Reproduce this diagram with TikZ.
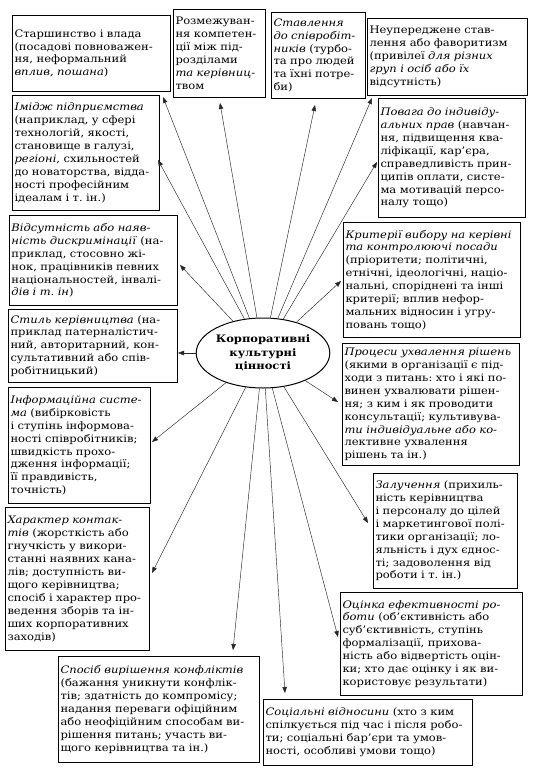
\documentclass[tikz,border=0pt]{standalone}
\usepackage{fontspec}
\setmainfont{DejaVu Serif}[FakeStretch=1.12]
\usetikzlibrary{arrows.meta,shapes.geometric}
\frenchspacing
\begin{document}
\begin{tikzpicture}[x=1pt,y=-1pt,
  box/.style={draw, line width=1pt, anchor=north west, align=left, inner sep=2pt,
    font=\fontsize{10.3}{12.9}\selectfont},
  arr/.style={line width=0.45pt, draw=black!85, -{Triangle[length=6pt,width=4.5pt]}},
  core/.style={draw, ellipse, line width=1pt, minimum width=122, minimum height=70,
    align=center, inner sep=0pt, font=\bfseries\fontsize{10.3}{13.5}\selectfont}]
\useasboundingbox[fill=white] (0,0) rectangle (537,784);

\node[core] (e) at (263,353) {Корпоративні\\культурні\\цінності};

\node[box, minimum width=156, minimum height=76, text width=154] (b1) at (12,15)
 {Старшинство і влада\\(посадові повноважен-\\ня, неформальний\\\textit{вплив, пошана})};
\node[box, minimum width=90, minimum height=88, text width=88] (b2) at (173,9)
 {Розмежуван-\\ня компетен-\\ції між під-\\розділами\\\textit{та керівниц-}\\твом};
\node[box, minimum width=92, minimum height=86, text width=90] (b3) at (271,12)
 {\textit{Ставлення}\\\textit{до співробіт-}\\\textit{ників} (турбо-\\та про людей\\та їхні потре-\\би)};
\node[box, minimum width=158, minimum height=77, text width=156] (b4) at (367,18)
 {Неупереджене став-\\лення або фаворитизм\\(привілеї \textit{для різних}\\\textit{груп і осіб або їх}\\відсутність)};
\node[box, minimum width=145, minimum height=119, text width=143] (b5) at (378,98)
 {\textit{Повага до індивіду-}\\\textit{альних прав} (навчан-\\ня, підвищення ква-\\ліфікації, кар'єра,\\справедливість прин-\\ципів оплати, систе-\\ма мотивацій персо-\\налу тощо)};
\node[box, minimum width=145, minimum height=115, text width=143] (b6) at (12,95)
 {\textit{Імідж підприємства}\\(наприклад, у сфері\\технологій, якості,\\становище в галузі,\\\textit{регіоні}, схильностей\\до новаторства, відда-\\ності професійним\\ідеалам і т. ін.)};
\node[box, minimum width=166, minimum height=90, text width=164] (b7) at (9,215)
 {\textit{Відсутність або наяв-}\\\textit{ність дискримінації} (на-\\приклад, стосовно жі-\\нок, працівників певних\\національностей, інвалі-\\\textit{дів і т. ін})};
\node[box, minimum width=167, minimum height=73, text width=165] (b8) at (8,309)
 {\textit{Стиль керівництва} (на-\\приклад патерналістич-\\ний, авторитарний, кон-\\сультативний або спів-\\робітницький)};
\node[box, minimum width=140, minimum height=116, text width=138] (b9) at (8,387)
 {\textit{Інформаційна систе-}\\\textit{ма} (вибірковість\\і ступінь інформова-\\ності співробітників;\\швидкість прохо-\\дження інформації;\\її правдивість,\\точність)};
\node[box, minimum width=142, minimum height=143, text width=140] (b10) at (5,507)
 {\textit{Характер контак-}\\\textit{тів} (жорсткість або\\гнучкість у викори-\\станні наявних кана-\\лів; доступність ви-\\щого керівництва;\\спосіб і характер про-\\ведення зборів та ін-\\ших корпоративних\\заходів)};
\node[box, minimum width=199, minimum height=106, text width=197] (b11) at (58,656)
 {\textit{Спосіб вирішення конфліктів}\\(бажання уникнути конфлік-\\тів; здатність до компромісу;\\надання переваги офіційним\\або неофіційним способам ви-\\рішення питань; участь ви-\\щого керівництва та ін.)};
\node[box, minimum width=207, minimum height=66, text width=205] (b12) at (263,699)
 {\textit{Соціальні відносини} (хто з ким\\спілкується під час і після робо-\\ти; соціальні бар'єри та умов-\\ності, особливі умови тощо)};
\node[box, minimum width=180, minimum height=103, text width=178] (b13) at (340,592)
 {\textit{Оцінка ефективності ро-}\\\textit{боти} (об'єктивність або\\суб'єктивність, ступінь\\формалізації, прихова-\\ність або відвертість оцін-\\ки; хто дає оцінку і як ви-\\користовує результати)};
\node[box, minimum width=142, minimum height=115, text width=140] (b14) at (373,473)
 {\textit{Залучення} (прихиль-\\ність керівництва\\і персоналу до цілей\\і маркетингової полі-\\тики організації; ло-\\яльність і дух єднос-\\ті; задоволення від\\роботи і т. ін.)};
\node[box, minimum width=175, minimum height=122, text width=173] (b15) at (342,343)
 {\textit{Процеси ухвалення рішень}\\(якими в організації є під-\\ходи з питань: хто і які по-\\винен ухвалювати рішен-\\ня; з ким і як проводити\\консультації; культивува-\\\textit{ти індивідуальне або ко-}\\лективне ухвалення\\рішень та ін.)};
\node[box, minimum width=175, minimum height=115, text width=173] (b16) at (343,222)
 {\textit{Критерії вибору на керівні}\\\textit{та контролюючі посади}\\(пріоритети; політичні,\\етнічні, ідеологічні, націо-\\нальні, споріднені та інші\\критерії; вплив нефор-\\мальних відносин і угру-\\повань тощо)};

\coordinate (t1) at (163,97);
\coordinate (t2) at (220,103);
\coordinate (t3) at (315,105);
\coordinate (t4) at (372,98);
\coordinate (t5) at (377,162);
\coordinate (t6) at (158,160);
\coordinate (t7) at (180,265);
\coordinate (t8) at (178,353);
\coordinate (t9) at (152,442);
\coordinate (t10) at (152,573);
\coordinate (t11) at (233,650);
\coordinate (t12) at (285,693);
\coordinate (t13) at (338,637);
\coordinate (t14) at (368,523);
\coordinate (t15) at (338,402);
\coordinate (t16) at (341,281);

\foreach \i in {1,...,16} \draw[arr] (e) -- (t\i);
\end{tikzpicture}
\end{document}
